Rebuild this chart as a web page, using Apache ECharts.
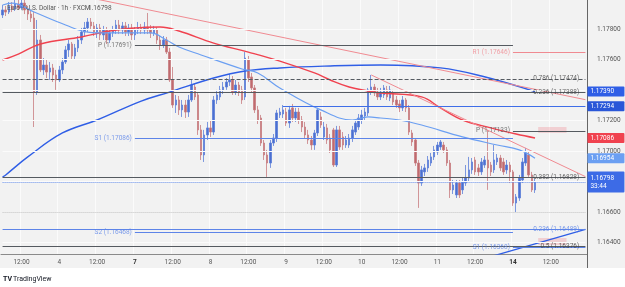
<!DOCTYPE html>
<html>
<head>
<meta charset="utf-8">
<script src="https://cdn.jsdelivr.net/npm/echarts@6.0.0/dist/echarts.min.js"></script>
<style>
html,body{margin:0;padding:0;background:#ffffff;overflow:hidden;}
#chart{width:625px;height:287px;}
</style>
</head>
<body>
<div id="chart"></div>
<script>
// ================= DATA =================
const sessionDays = ['3','4','7','8','9','10','11','14','15'];
const firstHour = 6;
const slotCount = 186;
const weekStartDays = ['7','14'];

// [open, close, low, high]
const candles = [
[1.17892,1.17925,1.17872,1.17957],[1.17925,1.17911,1.17885,1.17951],[1.17911,1.17951,1.17898,1.17977],[1.17951,1.17931,1.17911,1.17977],
[1.17931,1.17964,1.17918,1.17990],[1.17964,1.17938,1.17925,1.17990],[1.17938,1.17970,1.17925,1.17990],[1.17970,1.17925,1.17898,1.17990],
[1.17925,1.17898,1.17859,1.17951],[1.17898,1.17872,1.17846,1.17925],[1.17872,1.17387,1.17158,1.17911],[1.17387,1.17728,1.17368,1.17859],
[1.17728,1.17532,1.17518,1.17761],[1.17532,1.17564,1.17499,1.17610],[1.17564,1.17518,1.17479,1.17597],[1.17518,1.17545,1.17466,1.17584],
[1.17545,1.17499,1.17453,1.17571],[1.17499,1.17466,1.17401,1.17532],[1.17466,1.17532,1.17453,1.17558],[1.17532,1.17584,1.17505,1.17610],
[1.17584,1.17663,1.17571,1.17689],[1.17663,1.17702,1.17617,1.17728],[1.17702,1.17623,1.17597,1.17715],[1.17623,1.17676,1.17597,1.17702],
[1.17676,1.17728,1.17649,1.17754],[1.17728,1.17780,1.17702,1.17807],[1.17780,1.17807,1.17754,1.17846],[1.17807,1.17846,1.17780,1.17872],
[1.17846,1.17820,1.17794,1.17872],[1.17820,1.17780,1.17754,1.17846],[1.17780,1.17807,1.17741,1.17833],[1.17807,1.17761,1.17728,1.17833],
[1.17761,1.17794,1.17728,1.17820],[1.17794,1.17728,1.17702,1.17813],[1.17728,1.17774,1.17708,1.17794],[1.17774,1.17794,1.17748,1.17820],
[1.17794,1.17826,1.17767,1.17859],[1.17826,1.17794,1.17767,1.17859],[1.17794,1.17820,1.17767,1.17846],[1.17820,1.17780,1.17754,1.17846],
[1.17780,1.17807,1.17754,1.17833],[1.17807,1.17761,1.17728,1.17833],[1.17761,1.17794,1.17728,1.17813],[1.17794,1.17807,1.17767,1.17846],
[1.17807,1.17794,1.17767,1.17833],[1.17794,1.17813,1.17767,1.17846],[1.17813,1.17794,1.17767,1.17905],[1.17794,1.17774,1.17741,1.17826],
[1.17774,1.17794,1.17754,1.17820],[1.17794,1.17728,1.17702,1.17813],[1.17728,1.17695,1.17663,1.17754],[1.17695,1.17728,1.17676,1.17754],
[1.17728,1.17649,1.17636,1.17748],[1.17649,1.17466,1.17453,1.17676],[1.17466,1.17302,1.17283,1.17551],[1.17302,1.17335,1.17250,1.17368],
[1.17335,1.17270,1.17237,1.17361],[1.17270,1.17302,1.17224,1.17335],[1.17302,1.17256,1.17217,1.17335],[1.17256,1.17335,1.17224,1.17368],
[1.17335,1.17433,1.17322,1.17466],[1.17420,1.17355,1.17335,1.17440],[1.17368,1.17139,1.17106,1.17387],[1.17139,1.16975,1.16942,1.17171],
[1.16975,1.17106,1.16929,1.17139],[1.17106,1.17152,1.17073,1.17191],[1.17152,1.17125,1.17093,1.17204],[1.17125,1.17335,1.17106,1.17361],
[1.17335,1.17368,1.17309,1.17401],[1.17355,1.17401,1.17335,1.17427],[1.17401,1.17420,1.17374,1.17453],[1.17420,1.17453,1.17401,1.17479],
[1.17453,1.17466,1.17427,1.17505],[1.17466,1.17387,1.17368,1.17492],[1.17387,1.17433,1.17368,1.17466],[1.17433,1.17387,1.17361,1.17453],
[1.17401,1.17335,1.17309,1.17427],[1.17355,1.17610,1.17335,1.17649],[1.17597,1.17479,1.17453,1.17623],[1.17486,1.17414,1.17387,1.17512],
[1.17414,1.17270,1.17250,1.17433],[1.17270,1.17204,1.17178,1.17296],[1.17217,1.17053,1.17034,1.17237],[1.17053,1.16975,1.16942,1.17073],
[1.16975,1.16922,1.16831,1.17008],[1.16922,1.17053,1.16890,1.17073],[1.17053,1.17086,1.17034,1.17112],[1.17086,1.17250,1.17060,1.17270],
[1.17237,1.17256,1.17217,1.17283],[1.17243,1.17270,1.17217,1.17302],[1.17256,1.17184,1.17165,1.17283],[1.17184,1.17270,1.17152,1.17296],
[1.17283,1.17217,1.17191,1.17309],[1.17217,1.17256,1.17191,1.17283],[1.17256,1.17204,1.17178,1.17283],[1.17204,1.17158,1.17125,1.17230],
[1.17158,1.17106,1.17086,1.17191],[1.17106,1.17073,1.17047,1.17139],[1.17073,1.17040,1.17008,1.17099],[1.17040,1.17119,1.17008,1.17139],
[1.17119,1.17270,1.17099,1.17283],[1.17224,1.17171,1.17152,1.17256],[1.17093,1.17158,1.17073,1.17191],[1.17152,1.17073,1.17047,1.17178],
[1.17086,1.17008,1.16988,1.17112],[1.17139,1.16909,1.16896,1.17152],[1.16909,1.17139,1.16896,1.17165],[1.17139,1.17027,1.17008,1.17165],
[1.17093,1.17040,1.17008,1.17125],[1.17040,1.17073,1.17021,1.17099],[1.17040,1.17086,1.17021,1.17112],[1.17086,1.17139,1.17060,1.17165],
[1.17125,1.17184,1.17106,1.17204],[1.17158,1.17217,1.17139,1.17243],[1.17204,1.17237,1.17178,1.17270],[1.17230,1.17256,1.17204,1.17283],
[1.17250,1.17401,1.17230,1.17414],[1.17387,1.17420,1.17368,1.17499],[1.17420,1.17381,1.17361,1.17440],[1.17387,1.17355,1.17335,1.17414],
[1.17355,1.17387,1.17335,1.17414],[1.17368,1.17414,1.17348,1.17433],[1.17401,1.17355,1.17335,1.17427],[1.17348,1.17401,1.17328,1.17427],
[1.17381,1.17322,1.17302,1.17401],[1.17335,1.17302,1.17283,1.17361],[1.17309,1.17283,1.17256,1.17335],[1.17283,1.17335,1.17263,1.17361],
[1.17335,1.17283,1.17256,1.17348],[1.17283,1.17125,1.17106,1.17302],[1.17119,1.17060,1.17034,1.17139],[1.17073,1.16922,1.16903,1.17086],
[1.16922,1.16791,1.16628,1.16942],[1.16791,1.16877,1.16772,1.16903],[1.16864,1.16890,1.16837,1.16916],[1.16890,1.16942,1.16864,1.16968],
[1.16922,1.16962,1.16903,1.16988],[1.16962,1.17008,1.16942,1.17034],[1.16994,1.17040,1.16975,1.17060],[1.17027,1.17060,1.17008,1.17073],
[1.17040,1.17008,1.16988,1.17060],[1.17008,1.16922,1.16903,1.17027],[1.16922,1.16746,1.16693,1.16942],[1.16746,1.16778,1.16719,1.16811],
[1.16713,1.16791,1.16693,1.16811],[1.16791,1.16713,1.16693,1.16811],[1.16746,1.16798,1.16719,1.16824],[1.16791,1.16824,1.16772,1.16909],
[1.16824,1.16877,1.16798,1.16962],[1.16877,1.16929,1.16851,1.16955],[1.16942,1.16864,1.16844,1.16962],[1.16890,1.16864,1.16837,1.16916],
[1.16864,1.16929,1.16844,1.16955],[1.16909,1.16942,1.16890,1.16968],[1.16942,1.16890,1.16746,1.17139],[1.16909,1.16864,1.16837,1.16929],
[1.16877,1.16942,1.16857,1.17040],[1.16929,1.16955,1.16909,1.16981],[1.16955,1.16890,1.16870,1.16975],[1.16929,1.16864,1.16844,1.16955],
[1.16877,1.16909,1.16851,1.16942],[1.16909,1.16864,1.16791,1.16929],[1.16864,1.16660,1.16641,1.16877],[1.16660,1.16700,1.16601,1.16719],
[1.16693,1.16824,1.16674,1.16844],[1.16811,1.16929,1.16791,1.16955],[1.16922,1.16988,1.16903,1.17021],[1.16975,1.16844,1.16831,1.16994],
[1.16844,1.16746,1.16732,1.16864],[1.16746,1.16798,1.16726,1.16818]
];

// moving averages: [bar index, price]
const fastMA = [[0,1.17957],[3,1.17970],[10,1.17911],[20,1.17826],[27,1.17780],[34,1.17774],[47,1.17774],[52,1.17728],[56,1.17682],[63,1.17630],[76,1.17538],[81,1.17512],[88,1.17414],[101,1.17270],[111,1.17204],[116,1.17224],[120,1.17217],[126,1.17204],[133,1.17171],[146,1.17093],[157,1.17040],[164,1.17008],[169,1.16954]];
const midMA = [[0,1.17597],[5,1.17636],[12,1.17702],[25,1.17748],[34,1.17787],[42,1.17807],[50,1.17813],[56,1.17787],[67,1.17708],[78,1.17649],[88,1.17590],[99,1.17512],[104,1.17466],[110,1.17420],[116,1.17394],[120,1.17381],[133,1.17355],[139,1.17283],[146,1.17204],[155,1.17152],[163,1.17112],[169,1.17086]];
const slowMA = [[0,1.16831],[1,1.16844],[8,1.16962],[19,1.17119],[30,1.17204],[44,1.17328],[53,1.17387],[67,1.17479],[77,1.17525],[88,1.17545],[104,1.17558],[120,1.17564],[139,1.17545],[152,1.17492],[169,1.17390]];

// trend lines: [bar index, price]
const trendDownA = [[30,1.17995],[185,1.17337]];
const trendDownB = [[117,1.17499],[185,1.16833]];
const trendUp = [[155,1.16309],[185,1.16487]];

// fibonacci levels
const fibRatios = ['0.786','0.236','0.382','0.236','0.5'];
const fibPrices = [1.17474,1.17388,1.16828,1.16489,1.16376];

// weekly pivots (previous week / current week)
const prevPivotNames = ['P','S1','S2'];
const prevPivotPrices = [1.17691,1.17086,1.16468];
const prevWeekBars = [42,162];
const nextPivotNames = ['R1','P','S1'];
const nextPivotPrices = [1.17646,1.17133,1.16368];
const nextWeekBars = [162,185];

// horizontal ray and dotted level
const rayStartBar = 89;
const rayPrice = 1.17294;
const dottedLevel = 1.16600;

// right-scale tags
const tagPrices = [1.17390,1.17294,1.17086,1.16954];
const lastPrice = 1.16798;
const countdown = '33:44';

// price scale
const yTickValues = [1.164,1.166,1.170,1.172,1.176,1.178];
const yGridValues = [1.164,1.168,1.170,1.172,1.174,1.176,1.178];
const yMin = 1.16326, yMax = 1.17990;

// faded label boxes [bar from, bar to, price top, price bottom]
const fadedBoxes = [[170,179,1.17158,1.17119],[170,179,1.16431,1.16385]];

const titleText = 'Euro / U.S. Dollar · 1h · FXCM';

// ================= BUILD =================
const categories = [];
for (let d = 0; categories.length < slotCount; d++) {
  for (let h = (d === 0 ? firstHour : 0); h < 24 && categories.length < slotCount; h++) {
    categories.push(sessionDays[d] + ' ' + String(h).padStart(2, '0') + ':00');
  }
}
const hourOf = c => parseInt(c.split(' ')[1], 10);
const dayOf = c => c.split(' ')[0];
const isMajor = c => hourOf(c) === 0 || hourOf(c) === 12;

const FONT = 'Roboto, "Liberation Sans", sans-serif';
const BG = '#f2f2f2';
const GRAY_LINE = '#555a60';
const BLUE_LVL = '#5d84e8';
const PINK = '#f08a91';
const FS = 6.5;
const lastBar = slotCount - 1;

const fmt = v => v.toFixed(5);
const hseg = (a, b, p, style) => [{coord: [a, p], lineStyle: style}, {coord: [b, p]}];

// horizontal level lines
const levelLines = [];
yGridValues.forEach(v => levelLines.push(hseg(0, lastBar, v, {color: '#fbfbfb', width: 1, type: 'solid'})));
levelLines.push(hseg(0, lastBar, dottedLevel, {color: '#c4c4c4', width: 1, type: 'dotted'}));
const fibStyles = [
  {color: GRAY_LINE, type: 'dashed'}, {color: GRAY_LINE, type: 'solid'}, {color: GRAY_LINE, type: 'solid'},
  {color: BLUE_LVL, type: 'solid'}, {color: GRAY_LINE, type: 'solid'}
];
fibPrices.forEach((p, i) => levelLines.push(hseg(0, lastBar, p, Object.assign({width: 1}, fibStyles[i]))));
const prevColors = [GRAY_LINE, BLUE_LVL, BLUE_LVL];
prevPivotPrices.forEach((p, i) => levelLines.push(hseg(prevWeekBars[0], prevWeekBars[1], p, {color: prevColors[i], width: 1, type: 'solid'})));
const nextColors = [PINK, GRAY_LINE, BLUE_LVL];
nextPivotPrices.forEach((p, i) => levelLines.push(hseg(nextWeekBars[0], nextWeekBars[1], p, {color: nextColors[i], width: 1, type: 'solid'})));
levelLines.push(hseg(rayStartBar, lastBar, rayPrice, {color: '#3f6ee8', width: 1, type: 'solid'}));

// text labels on the chart
const txt = (bar, price, text, color, pos) => ({
  value: [bar, price],
  label: {show: true, position: pos, distance: 3, formatter: text, color: color, fontSize: FS, fontFamily: FONT}
});
const textItems = [];
fibPrices.forEach((p, i) => textItems.push(txt(lastBar - 1, p, fibRatios[i] + ' (' + fmt(p) + ')', i === 3 ? BLUE_LVL : '#444', 'left')));
prevPivotNames.forEach((n, i) => textItems.push(txt(prevWeekBars[0], prevPivotPrices[i], n + ' (' + fmt(prevPivotPrices[i]) + ')', i === 0 ? '#555' : BLUE_LVL, 'left')));
nextPivotNames.forEach((n, i) => textItems.push(txt(nextWeekBars[0], nextPivotPrices[i], n + ' (' + fmt(nextPivotPrices[i]) + ')', i === 0 ? PINK : (i === 1 ? '#555' : BLUE_LVL), 'left')));

// right-scale tags
const tagColors = ['#2f5ee6', '#2a57d8', '#f0424f', '#6b9ff2'];
const tagLabel = (text, bg, extra) => Object.assign({
  show: true, position: 'end', distance: 2, formatter: text, color: '#fff', backgroundColor: bg,
  padding: [2, 3, 1, 3], width: 31, fontSize: FS, fontFamily: FONT, borderRadius: 1
}, extra || {});
const tagLines = tagPrices.map((p, i) => [
  {coord: [0, p], lineStyle: {color: 'rgba(0,0,0,0)', width: 0}, label: tagLabel(fmt(p), tagColors[i])},
  {coord: [lastBar, p]}
]);
tagLines.push([
  {coord: [0, lastPrice], lineStyle: {color: '#6b93ee', type: 'dotted', width: 1},
   label: tagLabel(fmt(lastPrice) + '\n' + countdown, '#3d6be6', {padding: [3, 3, 2, 3], lineHeight: 8})},
  {coord: [lastBar, lastPrice]}
]);

const option = {
  backgroundColor: BG,
  animation: false,
  textStyle: {fontFamily: FONT},
  grid: {left: 1, right: 38, top: 0, bottom: 33, containLabel: false},
  xAxis: {
    type: 'category', data: categories, boundaryGap: true,
    axisLine: {show: true, lineStyle: {color: '#8a8a8a', width: 1}},
    axisTick: {show: false},
    axisLabel: {
      interval: (i, v) => isMajor(v), margin: 5, color: '#555', fontSize: FS, fontFamily: FONT,
      formatter: v => hourOf(v) === 12 ? '12:00' : (weekStartDays.includes(dayOf(v)) ? '{b|' + dayOf(v) + '}' : dayOf(v)),
      rich: {b: {fontWeight: 'bold', color: '#333', fontSize: FS, fontFamily: FONT}}
    },
    splitLine: {show: true, interval: (i, v) => isMajor(v), lineStyle: {color: '#fbfbfb', width: 1}}
  },
  yAxis: {
    type: 'value', position: 'right', min: yMin, max: yMax, scale: true,
    axisLine: {show: true, lineStyle: {color: '#666', width: 1}},
    axisTick: {show: false},
    splitLine: {show: false},
    axisLabel: {customValues: yTickValues, formatter: v => fmt(v), margin: 10, color: '#555', fontSize: FS, fontFamily: FONT}
  },
  series: [
    {
      type: 'line', data: [], silent: true, z: 1,
      markLine: {symbol: ['none', 'none'], precision: 5, silent: true, animation: false, label: {show: false}, data: levelLines},
      markArea: {silent: true, itemStyle: {color: 'rgba(240,120,128,0.28)'},
        data: fadedBoxes.map(b => [{coord: [b[0], b[2]]}, {coord: [b[1], b[3]]}])}
    },
    {
      type: 'candlestick', data: candles, barWidth: 2, z: 2,
      itemStyle: {color: '#4b6fd1', color0: '#c06a6e', borderColor: '#5d7fd8', borderColor0: '#c87c80', borderWidth: 0.8}
    },
    {type: 'line', data: slowMA, showSymbol: false, smooth: 0.4, z: 3, lineStyle: {color: '#2f5ee6', width: 1.4}},
    {type: 'line', data: midMA, showSymbol: false, smooth: 0.4, z: 3, lineStyle: {color: '#f0424f', width: 1.4}},
    {type: 'line', data: fastMA, showSymbol: false, smooth: 0.4, z: 3, lineStyle: {color: '#6b9ff2', width: 1.2}},
    {type: 'line', data: trendDownA, showSymbol: false, z: 4, lineStyle: {color: PINK, width: 1}},
    {type: 'line', data: trendDownB, showSymbol: false, z: 4, lineStyle: {color: PINK, width: 1}},
    {type: 'line', data: trendUp, showSymbol: false, z: 4, lineStyle: {color: '#2f5ee6', width: 1.3}},
    {
      type: 'scatter', data: textItems, symbolSize: 0.1, silent: true, z: 5, clip: false,
      itemStyle: {color: 'rgba(0,0,0,0)'}
    },
    {
      type: 'line', data: [], silent: true, z: 6,
      markLine: {symbol: ['none', 'none'], precision: 5, silent: true, animation: false, data: tagLines}
    }
  ],
  graphic: [
    {type: 'rect', left: 0, top: 268, shape: {width: 625, height: 19}, style: {fill: '#ffffff'}, z: 50},
    {type: 'line', shape: {x1: 587.5, y1: 254, x2: 587.5, y2: 268}, style: {stroke: '#666', lineWidth: 1}, z: 50},
    {type: 'text', left: 7, top: 5, z: 60, style: {text: titleText, fill: '#555', font: '6.5px ' + FONT}},
    {type: 'text', left: 88, top: 5, z: 60, style: {text: fmt(lastPrice), fill: '#555', font: '6.5px ' + FONT}},
    {type: 'text', left: 3, top: 276, z: 60, style: {text: 'TV', fill: '#131722', font: 'bold 7px ' + FONT}},
    {type: 'text', left: 13, top: 276, z: 60, style: {text: 'TradingView', fill: '#131722', font: '7px ' + FONT}}
  ]
};

const chart = echarts.init(document.getElementById('chart'), null, {renderer: 'canvas', width: 625, height: 287});
chart.setOption(option);
</script>
</body>
</html>
